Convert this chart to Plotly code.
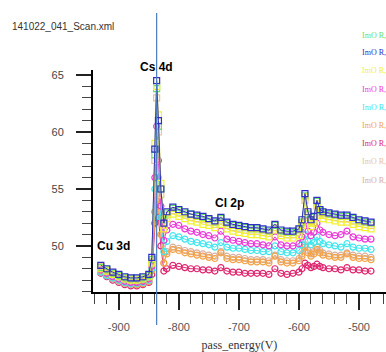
import plotly.graph_objects as go

energy = [-930, -920, -910, -900, -890, -880, -870, -860, -850, -845, -840, -837, -834, -830, -825,
          -820, -810, -800, -790, -780, -770, -760, -750, -740, -730, -720, -710, -700, -690, -680,
          -670, -660, -650, -640, -630, -620, -610, -600, -595, -590, -585, -580, -575, -570, -565,
          -560, -550, -540, -530, -520, -510, -500, -490, -480]

s_green = [48.1,47.9,47.6,47.4,47.2,47.1,47.1,47.2,47.4,48.8,58.0,63.8,60.5,55.0,52.3,52.9,53.3,53.1,52.9,52.8,
           52.6,52.5,52.3,52.1,52.4,52.0,51.8,51.7,51.6,51.5,51.5,51.4,51.3,51.8,51.3,51.2,51.2,51.4,52.1,54.4,
           52.8,52.2,52.5,53.9,53.1,52.9,52.8,52.7,52.6,52.6,52.4,52.2,52.1,52.0]
s_blue = [48.3,48.0,47.7,47.5,47.3,47.2,47.2,47.3,47.5,49.0,58.5,64.5,61.0,55.0,52.0,53.0,53.4,53.2,53.0,52.8,
          52.7,52.6,52.4,52.2,52.5,52.1,51.9,51.8,51.7,51.6,51.6,51.5,51.4,51.9,51.4,51.3,51.3,51.5,52.3,54.6,
          53.0,52.3,52.6,54.0,53.2,53.0,52.9,52.8,52.7,52.7,52.5,52.3,52.2,52.1]
s_yellow = [48.0,47.8,47.5,47.3,47.1,47.0,47.0,47.1,47.3,48.5,59.0,64.0,61.5,55.5,51.5,52.4,52.8,52.6,52.4,52.2,
            52.1,51.9,51.8,51.6,51.9,51.5,51.3,51.2,51.1,51.0,51.0,50.9,50.8,51.4,50.9,50.7,50.7,50.9,51.8,54.3,
            52.5,51.7,52.0,53.7,52.7,52.4,52.3,52.2,52.1,52.1,51.9,51.7,51.6,51.5]
s_magenta = [47.9,47.6,47.3,47.1,46.9,46.8,46.8,46.9,47.1,48.2,56.0,60.5,57.5,53.5,50.5,51.4,51.9,51.8,51.5,51.3,
             51.2,51.0,50.9,50.7,51.3,50.6,50.5,50.4,50.3,50.2,50.2,50.1,50.0,50.8,50.1,50.0,50.0,50.2,50.8,52.2,
             51.3,50.9,51.2,52.0,51.4,51.2,51.0,50.9,51.0,51.3,50.8,50.7,50.6,50.6]
s_cyan = [47.7,47.4,47.2,47.0,46.8,46.7,46.7,46.8,47.0,48.0,55.0,58.5,56.0,52.5,49.5,50.4,50.9,50.8,50.6,50.4,
          50.3,50.2,50.1,49.9,50.3,49.9,49.8,49.8,49.7,49.6,49.6,49.5,49.5,50.0,49.5,49.4,49.4,49.6,50.1,51.0,
          50.4,50.1,50.3,50.8,50.4,50.2,50.1,50.0,49.9,50.2,49.9,49.8,49.8,49.7]
s_orange = [47.8,47.5,47.2,47.0,46.8,46.7,46.6,46.7,46.9,47.8,53.0,55.5,53.5,51.0,48.5,49.3,49.7,49.6,49.4,49.3,
            49.2,49.1,49.0,48.9,49.4,48.9,48.8,48.8,48.7,48.6,48.6,48.6,48.5,49.1,48.6,48.5,48.5,48.7,49.1,49.9,
            49.4,49.1,49.3,49.7,49.4,49.2,49.1,49.0,49.0,49.3,49.0,48.9,48.9,48.8]
s_crimson = [47.6,47.3,47.0,46.8,46.6,46.5,46.5,46.6,46.8,47.5,52.0,54.0,52.5,50.0,47.8,48.0,48.3,48.2,48.1,48.0,
             48.0,47.9,47.9,47.8,48.1,47.8,47.7,47.7,47.6,47.6,47.6,47.6,47.5,48.0,47.6,47.5,47.6,47.7,48.0,48.5,
             48.3,48.1,48.2,48.4,48.2,48.1,48.0,48.0,47.9,48.1,47.9,47.9,47.8,47.8]
s_tan = [48.2,47.9,47.6,47.4,47.2,47.1,47.1,47.2,47.4,48.6,57.5,63.0,60.0,54.5,51.8,52.7,53.1,52.9,52.7,52.5,
         52.4,52.3,52.1,51.9,52.2,51.8,51.6,51.5,51.4,51.3,51.3,51.2,51.1,51.6,51.1,51.0,51.0,51.2,52.0,54.0,
         52.7,52.0,52.3,53.5,52.9,52.7,52.6,52.5,52.4,52.4,52.2,52.0,51.9,51.8]
s_rosy = [47.7,47.4,47.1,46.9,46.7,46.6,46.6,46.7,46.9,47.9,53.0,56.0,54.0,51.0,48.5,49.5,49.9,49.8,49.6,49.5,
          49.4,49.3,49.2,49.1,49.5,49.1,49.0,49.0,48.9,48.8,48.8,48.8,48.7,49.2,48.8,48.7,48.7,48.9,49.3,50.1,
          49.6,49.3,49.5,49.9,49.6,49.4,49.3,49.2,49.2,49.4,49.2,49.1,49.1,49.0]

series_names = ["ImO R,", "ImO R,", "ImO R,", "ImO R,", "ImO R,", "ImO R,", "ImO R,", "ImO R,", "ImO R,"]
series_values = [s_green, s_blue, s_yellow, s_magenta, s_cyan, s_orange, s_crimson, s_tan, s_rosy]
series_colors = ["#66e066", "#2f2fc8", "#f2f22e", "#ec38d8", "#3ee6ee", "#f4a244", "#e0246e", "#e8c498", "#d8ae9e"]
series_symbols = ["square-open", "square-open", "square-open", "circle-open", "circle-open",
                  "circle-open", "circle-open", "square-open", "circle-open"]

xtick_vals = [-900, -800, -700, -600, -500]
xtick_text = ["-900", "-800", "-700", "-600", "-500"]
ytick_vals = [50, 55, 60, 65]
marker_line_x = -837

W, H = 386, 352
L, T, B = 93, 70, 60
PW, PH = W - L, H - T - B

fig = go.Figure()
order = [6, 8, 5, 4, 3, 7, 0, 2, 1]
for i in order:
    fig.add_trace(go.Scatter(
        x=energy, y=series_values[i], name=series_names[i], mode="lines+markers",
        line=dict(color=series_colors[i], width=1),
        marker=dict(symbol=series_symbols[i], size=6, color=series_colors[i], line=dict(width=1.2)),
        showlegend=False))

fig.add_shape(type="line", xref="x", yref="paper", x0=marker_line_x, x1=marker_line_x,
              y0=-(325 - 292) / PH, y1=(292 - 13) / PH, line=dict(color="#4a7cc0", width=1.2), layer="above")

def px_x(px):
    return (px - L) / PW

def px_y(py):
    return (H - B - py) / PH

leg_y_px = [35, 53, 71, 89, 107, 125, 143, 161.5, 180]
for name, col, py in zip(series_names, series_colors, leg_y_px):
    fig.add_annotation(text=name, xref="paper", yref="paper", x=px_x(360), y=px_y(py),
                       xanchor="left", yanchor="middle", showarrow=False,
                       font=dict(family="Liberation Serif", size=8, color=col))

for txt, px, py in [("Cs 4d", 156, 67), ("Cu 3d", 113.5, 246), ("Cl 2p", 229, 203)]:
    fig.add_annotation(text="<b>" + txt + "</b>", xref="paper", yref="paper",
                       x=px_x(px), y=px_y(py), xanchor="center", yanchor="middle",
                       showarrow=False, font=dict(family="Liberation Sans", size=12, color="black"))

fig.update_layout(
    width=W, height=H,
    margin=dict(l=L, r=0, t=T, b=B, autoexpand=False),
    paper_bgcolor="white", plot_bgcolor="white",
    title=dict(text="141022_041_Scan.xml", x=12 / W, xref="container", xanchor="left",
               y=1 - 26 / H, yanchor="middle",
               font=dict(family="Liberation Sans", size=10, color="#333333")),
    xaxis=dict(range=[-943, -455], showgrid=False, zeroline=False,
               showline=True, linecolor="black", linewidth=2,
               tickmode="array", tickvals=xtick_vals, ticktext=xtick_text,
               ticks="outside", ticklen=16, tickwidth=1.5, tickcolor="#222",
               ticklabelstandoff=8,
               tickfont=dict(family="Liberation Sans", size=11, color="#555555"),
               minor=dict(tickmode="linear", tick0=-900, dtick=20, ticks="outside",
                          ticklen=10, tickwidth=1, tickcolor="#444", showgrid=False),
               title=dict(text="pass_energy(V)", standoff=11,
                          font=dict(family="Liberation Serif", size=12, color="#333333"))),
    yaxis=dict(range=[45.96, 65.44], showgrid=False, zeroline=False,
               showline=True, linecolor="black", linewidth=2,
               tickmode="array", tickvals=ytick_vals,
               ticks="outside", ticklen=15, tickwidth=1.5, tickcolor="#222",
               ticklabelstandoff=10,
               tickfont=dict(family="Liberation Sans", size=11, color="#444444"),
               minor=dict(tickmode="linear", tick0=45, dtick=1, ticks="outside",
                          ticklen=9, tickwidth=1, tickcolor="#444", showgrid=False)),
)

fig.write_html("out.html", config={"displayModeBar": False},
               post_script="document.body.style.margin='0';document.body.style.overflow='hidden';")
